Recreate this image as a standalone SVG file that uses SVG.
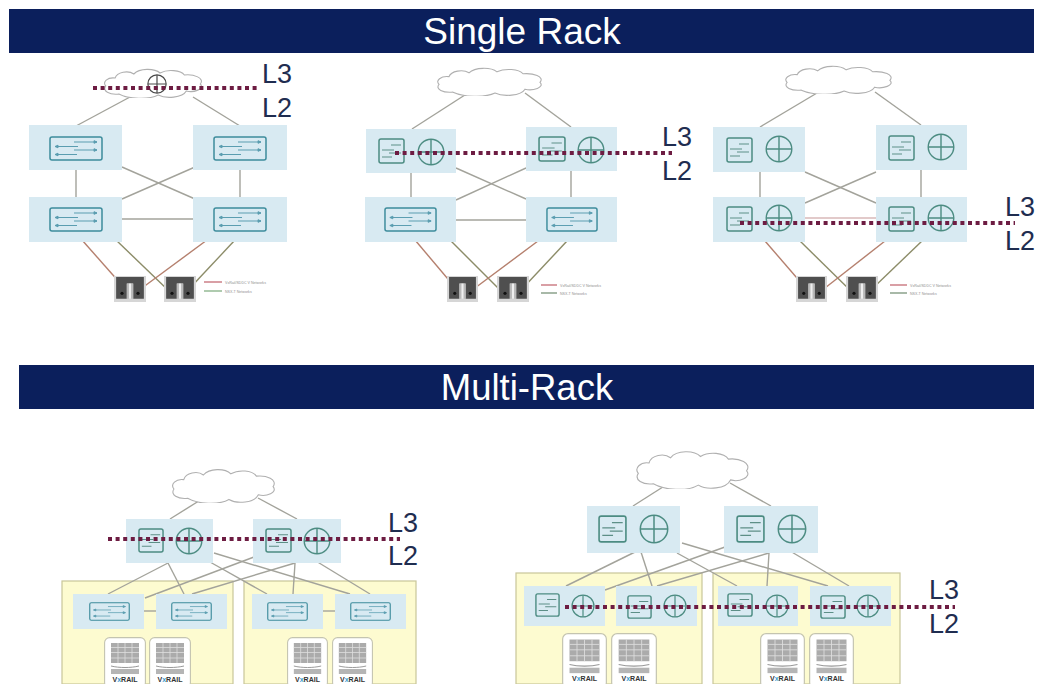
<svg xmlns="http://www.w3.org/2000/svg" width="1040" height="684" viewBox="0 0 1040 684">
<style>
text{font-family:"Liberation Sans",Arial,sans-serif}
.hdr{fill:#0b1f5c}
.ttl{fill:#fff;font-size:37px;text-anchor:middle}
.lay{fill:#1f2d50;font-size:27px}
.box{fill:#d8eaf2}
.rack{fill:#fdfbd0;stroke:#c9c699;stroke-width:1.2}
#connectors line{stroke:#a3a39b;stroke-width:1.4}
#connectors line.r{stroke:#b5806e}
#connectors line.o{stroke:#8c8c68}
#connectors line.p{stroke:#d9b8b8}
.cut{stroke:#6d1c42;stroke-width:4;stroke-dasharray:4 3.6;fill:none}
.leg{font-size:3.6px;fill:#8f8f8f}
.vx{font-size:7px;font-weight:700;fill:#333}
</style>
<defs>
<symbol id="cloud" viewBox="0 0 110 30" preserveAspectRatio="none">
<path d="M18 26C8 27 0 23 4 18C0 14 6 9 14 10C16 4 28 2 34 6C40 0 56 0 62 5C70 1 84 2 88 7C98 6 110 10 105 16C110 21 98 25 90 23C86 30 68 31 60 27C50 32 28 31 18 26Z" fill="#fff" stroke="#b0b0b0" stroke-width="1.1" vector-effect="non-scaling-stroke"/>
</symbol>
<symbol id="sw" viewBox="0 0 54 25" preserveAspectRatio="none">
<rect x="1" y="1" width="52" height="23" rx="2" fill="none" stroke="#3d8c9c" stroke-width="1.5"/>
<g stroke="#5a9db0" stroke-width="1" fill="#5a9db0">
<path d="M25 6H48M48 6l-3-1.300v2.600zM6 10.500H29M6 10.500l3-1.300v2.600zM25 14H48M48 14l-3-1.300v2.600zM6 18.500H28M6 18.500l3-1.300v2.600z"/>
</g>
</symbol>
<symbol id="sq" viewBox="0 0 27 26" preserveAspectRatio="none">
<rect x="1" y="1" width="25" height="24" rx="2" fill="none" stroke="#4c8c82" stroke-width="1.500"/>
<path d="M13 7H23M4 12H16M11 15H23M4 19H14" fill="none" stroke="#5d8f87" stroke-width="1.100"/>
</symbol>
<symbol id="rt" viewBox="0 0 30 30">
<circle cx="15" cy="15" r="13.700" fill="none" stroke="#4c8c82" stroke-width="1.500"/>
<path d="M15 1.500V28.500M1.500 15H28.500" stroke="#4c8c82" stroke-width="1.500"/>
</symbol>
<symbol id="rtd" viewBox="0 0 30 30">
<circle cx="15" cy="15" r="13.700" fill="#fff" stroke="#4a4a4a" stroke-width="1.800"/>
<path d="M15 1.500V28.500M1.500 15H28.500" stroke="#4a4a4a" stroke-width="1.800"/>
</symbol>
<symbol id="srv" viewBox="0 0 30 24" preserveAspectRatio="none">
<rect width="30" height="24" fill="#d6d6d6"/>
<path d="M2 1H28V21H18V7H12V21H2Z" fill="#4f4f4f"/>
<rect x="12" y="7" width="6" height="14" fill="#b9b9b9"/>
<rect x="14" y="7" width="2" height="14" fill="#efefef"/>
<circle cx="7.500" cy="16" r="1.500" fill="#111"/><circle cx="22.500" cy="16" r="1.500" fill="#111"/>
</symbol>
<symbol id="card" viewBox="0 0 42 47" preserveAspectRatio="none">
<rect x=".6" y=".6" width="40.800" height="50" rx="5" fill="#fff" stroke="#c4c4b0" stroke-width="1.100"/>
<rect x="7" y="6" width="28" height="20" fill="#ababab"/>
<path d="M7 10.500H35M7 15.500H35M7 21H35M21 6V26M14 6V26M28 6V26" stroke="#dedede" stroke-width=".8"/>
<path d="M7 29C15 31 27 31 35 29" fill="none" stroke="#999" stroke-width="1"/>
<rect x="7" y="32" width="28" height="5" fill="#b5b5b5"/>
</symbol>
</defs>

<g id="header-single"><rect class="hdr" x="9" y="9" width="1025" height="44"/><text class="ttl" x="522" y="44">Single Rack</text></g>
<g id="header-multi"><rect class="hdr" x="19" y="365" width="1015" height="44"/><text class="ttl" x="527" y="400" style="font-size:36.500px">Multi-Rack</text></g>

<g id="racks">
<rect class="rack" x="62" y="581" width="171" height="103"/>
<rect class="rack" x="244" y="581" width="172" height="103"/>
<rect class="rack" x="516" y="573" width="186" height="111"/>
<rect class="rack" x="713" y="573" width="187" height="111"/>
</g>

<g id="connectors">
<line x1="130" y1="97" x2="76" y2="126"/><line x1="193" y1="97" x2="240" y2="126"/>
<line x1="76" y1="170" x2="76" y2="197"/><line x1="240" y1="170" x2="240" y2="197"/>
<line x1="122" y1="167" x2="195" y2="199"/><line x1="195" y1="167" x2="122" y2="199"/>
<line x1="122" y1="219" x2="193" y2="219"/>
<line class="r" x1="82" y1="240" x2="120" y2="283"/><line class="o" x1="116" y1="240" x2="170" y2="292"/>
<line class="r" x1="207" y1="240" x2="142" y2="288"/><line class="o" x1="235" y1="240" x2="190" y2="288"/>

<line x1="468" y1="93" x2="412" y2="129"/><line x1="525" y1="93" x2="571" y2="127"/>
<line x1="411" y1="173" x2="411" y2="197"/><line x1="571" y1="171" x2="571" y2="197"/>
<line x1="456" y1="168" x2="526" y2="199"/><line x1="526" y1="168" x2="456" y2="200"/>
<line x1="456" y1="220" x2="526" y2="220"/>
<line class="r" x1="415" y1="240" x2="453" y2="285"/><line class="o" x1="450" y1="240" x2="505" y2="295"/>
<line class="r" x1="538" y1="241" x2="475" y2="288"/><line class="o" x1="567" y1="241" x2="523" y2="288"/>

<line x1="817" y1="93" x2="760" y2="127"/><line x1="875" y1="92" x2="921" y2="125"/>
<line x1="760" y1="172" x2="760" y2="197"/><line x1="921" y1="170" x2="921" y2="197"/>
<line x1="805" y1="172" x2="876" y2="203"/><line x1="876" y1="172" x2="805" y2="203"/>
<line class="p" x1="805" y1="218" x2="876" y2="218"/>
<line class="r" x1="765" y1="241" x2="803" y2="285"/><line class="o" x1="800" y1="241" x2="855" y2="295"/>
<line class="r" x1="885" y1="241" x2="825" y2="288"/><line class="o" x1="922" y1="241" x2="873" y2="288"/>

<line x1="202" y1="499" x2="170" y2="519"/><line x1="258" y1="498" x2="297" y2="519"/>
<line x1="168" y1="563" x2="108" y2="594"/><line x1="168" y1="563" x2="184" y2="594"/>
<line x1="254" y1="557" x2="145" y2="598"/><line x1="295" y1="563" x2="192" y2="594"/>
<line x1="295" y1="563" x2="293" y2="594"/><line x1="214" y1="553" x2="350" y2="594"/>
<line x1="210" y1="562" x2="267" y2="594"/><line x1="311" y1="558" x2="370" y2="594"/>
<line x1="144" y1="611" x2="156" y2="611"/><line x1="323" y1="611" x2="335" y2="611"/>

<line x1="666" y1="485" x2="633" y2="506"/><line x1="730" y1="483" x2="771" y2="506"/>
<line x1="635" y1="552" x2="566" y2="586"/><line x1="641" y1="552" x2="652" y2="586"/>
<line x1="725" y1="547" x2="605" y2="590"/><line x1="769" y1="553" x2="657" y2="586"/>
<line x1="769" y1="553" x2="767" y2="586"/><line x1="682" y1="543" x2="828" y2="586"/>
<line x1="677" y1="553" x2="737" y2="586"/><line x1="785" y1="548" x2="849" y2="586"/>
</g>

<g id="single-a">
<g id="a-cloud"><use href="#cloud" x="102" y="68" width="103" height="30"/><use href="#rtd" x="147" y="74" width="20" height="20"/></g>
<g id="a-s1"><rect class="box" x="29" y="125" width="93" height="45"/><use href="#sw" x="49" y="136" width="54" height="25"/></g>
<g id="a-s2"><rect class="box" x="193" y="125" width="94" height="45"/><use href="#sw" x="213" y="136" width="54" height="25"/></g>
<g id="a-s3"><rect class="box" x="29" y="197" width="93" height="45"/><use href="#sw" x="49" y="207" width="54" height="25"/></g>
<g id="a-s4"><rect class="box" x="193" y="197" width="94" height="45"/><use href="#sw" x="213" y="207" width="54" height="25"/></g>
<g id="a-h1"><use href="#srv" x="114" y="276" width="32" height="26"/></g>
<g id="a-h2"><use href="#srv" x="164" y="276" width="32" height="26"/></g>
<g id="a-legend"><path d="M204 282H222" stroke="#c0606a" stroke-width="1.200"/><path d="M204 291H222" stroke="#7aa87a" stroke-width="1.200"/><text class="leg" x="225" y="283.500">VxRail/SDDC V Networks</text><text class="leg" x="225" y="292.500">NSX-T Networks</text></g>
</g>

<g id="single-b">
<g id="b-cloud"><use href="#cloud" x="435" y="67" width="110" height="29"/></g>
<g id="b-s1"><rect class="box" x="366" y="129" width="90" height="44"/><use href="#sq" x="378" y="138" width="27" height="26"/><use href="#rt" x="417" y="138" width="28" height="28"/></g>
<g id="b-s2"><rect class="box" x="526" y="127" width="91" height="44"/><use href="#sq" x="538" y="136" width="28" height="26"/><use href="#rt" x="577" y="136" width="28" height="28"/></g>
<g id="b-s3"><rect class="box" x="365" y="197" width="91" height="45"/><use href="#sw" x="384" y="207" width="53" height="25"/></g>
<g id="b-s4"><rect class="box" x="526" y="197" width="91" height="45"/><use href="#sw" x="546" y="207" width="52" height="25"/></g>
<g id="b-h1"><use href="#srv" x="447" y="276" width="31" height="26"/></g>
<g id="b-h2"><use href="#srv" x="497" y="276" width="32" height="26"/></g>
<g id="b-legend"><path d="M541 285H557" stroke="#c0606a" stroke-width="1.200"/><path d="M541 293H557" stroke="#6f8a6f" stroke-width="1.200"/><text class="leg" x="560" y="286.500">VxRail/SDDC V Networks</text><text class="leg" x="560" y="294.500">NSX-T Networks</text></g>
</g>

<g id="single-c">
<g id="c-cloud"><use href="#cloud" x="783" y="65" width="112" height="29"/></g>
<g id="c-s1"><rect class="box" x="713" y="127" width="92" height="45"/><use href="#sq" x="726" y="137" width="27" height="26"/><use href="#rt" x="765" y="135" width="28" height="28"/></g>
<g id="c-s2"><rect class="box" x="876" y="125" width="91" height="45"/><use href="#sq" x="888" y="135" width="27" height="26"/><use href="#rt" x="927" y="133" width="28" height="28"/></g>
<g id="c-s3"><rect class="box" x="713" y="197" width="92" height="45"/><use href="#sq" x="726" y="206" width="27" height="26"/><use href="#rt" x="765" y="204" width="28" height="28"/></g>
<g id="c-s4"><rect class="box" x="876" y="197" width="91" height="45"/><use href="#sq" x="888" y="206" width="27" height="26"/><use href="#rt" x="927" y="204" width="28" height="28"/></g>
<g id="c-h1"><use href="#srv" x="796" y="276" width="31" height="26"/></g>
<g id="c-h2"><use href="#srv" x="846" y="276" width="32" height="26"/></g>
<g id="c-legend"><path d="M890 285H907" stroke="#c0606a" stroke-width="1.200"/><path d="M890 293H907" stroke="#6f8a6f" stroke-width="1.200"/><text class="leg" x="910" y="286.500">VxRail/SDDC V Networks</text><text class="leg" x="910" y="294.500">NSX-T Networks</text></g>
</g>

<g id="multi-a">
<g id="d-cloud"><use href="#cloud" x="170" y="468" width="108" height="35"/></g>
<g id="d-t1"><rect class="box" x="126" y="519" width="87" height="44"/><use href="#sq" x="138" y="528" width="26" height="25"/><use href="#rt" x="175" y="527" width="28" height="28"/></g>
<g id="d-t2"><rect class="box" x="253" y="519" width="88" height="44"/><use href="#sq" x="265" y="528" width="27" height="25"/><use href="#rt" x="303" y="527" width="28" height="28"/></g>
<g id="d-l1"><rect class="box" x="73" y="594" width="71" height="35"/><use href="#sw" x="89" y="602" width="41" height="19"/></g>
<g id="d-l2"><rect class="box" x="156" y="594" width="71" height="35"/><use href="#sw" x="171" y="602" width="41" height="19"/></g>
<g id="d-l3"><rect class="box" x="252" y="594" width="71" height="35"/><use href="#sw" x="267" y="602" width="41" height="19"/></g>
<g id="d-l4"><rect class="box" x="335" y="594" width="71" height="35"/><use href="#sw" x="350" y="602" width="41" height="19"/></g>
<g id="d-c1"><use href="#card" x="104" y="637" width="42" height="47"/><text class="vx" x="125" y="682" text-anchor="middle">V<tspan fill="#3a9bd0">x</tspan>RAIL</text></g>
<g id="d-c2"><use href="#card" x="149" y="637" width="42" height="47"/><text class="vx" x="170" y="682" text-anchor="middle">V<tspan fill="#3a9bd0">x</tspan>RAIL</text></g>
<g id="d-c3"><use href="#card" x="287" y="637" width="41" height="47"/><text class="vx" x="307.500" y="682" text-anchor="middle">V<tspan fill="#3a9bd0">x</tspan>RAIL</text></g>
<g id="d-c4"><use href="#card" x="332" y="637" width="41" height="47"/><text class="vx" x="352.500" y="682" text-anchor="middle">V<tspan fill="#3a9bd0">x</tspan>RAIL</text></g>
</g>

<g id="multi-b">
<g id="e-cloud"><use href="#cloud" x="634" y="450" width="118" height="39"/></g>
<g id="e-t1"><rect class="box" x="587" y="506" width="93" height="47"/><use href="#sq" x="598" y="515" width="29" height="28"/><use href="#rt" x="639" y="514" width="30" height="30"/></g>
<g id="e-t2"><rect class="box" x="724" y="506" width="94" height="47"/><use href="#sq" x="736" y="515" width="29" height="28"/><use href="#rt" x="777" y="514" width="30" height="30"/></g>
<g id="e-l1"><rect class="box" x="524" y="586" width="81" height="40"/><use href="#sq" x="535" y="593" width="25" height="24"/><use href="#rt" x="571" y="594" width="24" height="24"/></g>
<g id="e-l2"><rect class="box" x="616" y="586" width="81" height="40"/><use href="#sq" x="627" y="595" width="25" height="24"/><use href="#rt" x="663" y="594" width="24" height="24"/></g>
<g id="e-l3"><rect class="box" x="718" y="586" width="80" height="40"/><use href="#sq" x="727" y="593" width="26" height="24"/><use href="#rt" x="765" y="594" width="24" height="24"/></g>
<g id="e-l4"><rect class="box" x="810" y="586" width="81" height="40"/><use href="#sq" x="820" y="595" width="26" height="24"/><use href="#rt" x="856" y="594" width="24" height="24"/></g>
<g id="e-c1"><use href="#card" x="562" y="633" width="45" height="51"/><text class="vx" x="584.500" y="681" text-anchor="middle">V<tspan fill="#3a9bd0">x</tspan>RAIL</text></g>
<g id="e-c2"><use href="#card" x="611" y="633" width="46" height="51"/><text class="vx" x="634" y="681" text-anchor="middle">V<tspan fill="#3a9bd0">x</tspan>RAIL</text></g>
<g id="e-c3"><use href="#card" x="760" y="633" width="45" height="51"/><text class="vx" x="782.500" y="681" text-anchor="middle">V<tspan fill="#3a9bd0">x</tspan>RAIL</text></g>
<g id="e-c4"><use href="#card" x="809" y="633" width="45" height="51"/><text class="vx" x="831.500" y="681" text-anchor="middle">V<tspan fill="#3a9bd0">x</tspan>RAIL</text></g>
</g>

<g id="l3-l2-boundaries">
<path class="cut" d="M93 88H260"/>
<path class="cut" d="M395 153H672"/>
<path class="cut" d="M740 223H1015"/>
<path class="cut" d="M108 539H400"/>
<path class="cut" d="M565 607H955"/>
<text class="lay" x="262" y="83">L3</text><text class="lay" x="262" y="117">L2</text>
<text class="lay" x="662" y="146">L3</text><text class="lay" x="662" y="180">L2</text>
<text class="lay" x="1005" y="216">L3</text><text class="lay" x="1005" y="250">L2</text>
<text class="lay" x="388" y="532">L3</text><text class="lay" x="388" y="565">L2</text>
<text class="lay" x="929" y="599">L3</text><text class="lay" x="929" y="633">L2</text>
</g>
</svg>
